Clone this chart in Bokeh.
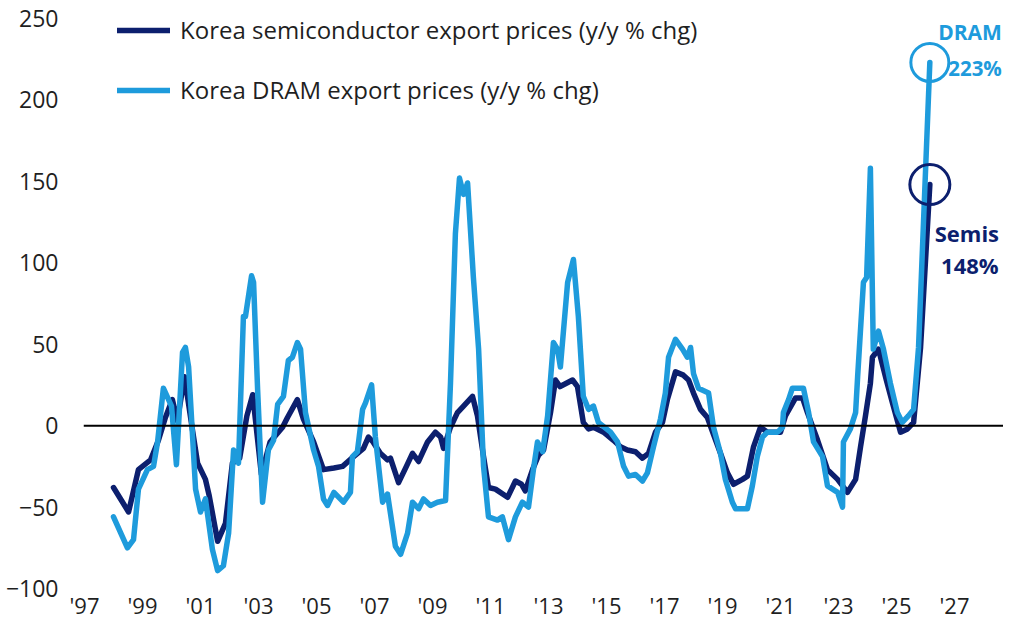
from bokeh.plotting import figure
from bokeh.models import FixedTicker, Span, Legend, LegendItem, Label, Range1d
from bokeh.embed import file_html
from bokeh.resources import INLINE

# ---------------- data ----------------
semis_dates = [
    1998.00, 1998.52, 1998.86, 1999.28, 1999.55, 1999.79, 2000.03, 2000.20, 2000.45, 2000.70,
    2000.90, 2001.17, 2001.30, 2001.59, 2001.86, 2002.10, 2002.35, 2002.60, 2002.80, 2003.10,
    2003.40, 2003.83, 2004.00, 2004.34, 2004.55, 2004.90, 2005.24, 2005.60, 2005.90, 2006.28,
    2006.62, 2006.79, 2006.95, 2007.20, 2007.45, 2007.55, 2007.83, 2008.10, 2008.31, 2008.52,
    2008.83, 2009.10, 2009.28, 2009.38, 2009.62, 2009.86, 2010.07, 2010.38, 2010.55, 2010.76,
    2010.93, 2011.17, 2011.59, 2011.86, 2012.07, 2012.20, 2012.45, 2012.66, 2012.83, 2013.07,
    2013.24, 2013.40, 2013.83, 2014.00, 2014.20, 2014.38, 2014.55, 2014.90, 2015.24, 2015.48,
    2015.72, 2016.00, 2016.24, 2016.45, 2016.69, 2016.93, 2017.10, 2017.38, 2017.65, 2017.83,
    2018.00, 2018.24, 2018.48, 2018.66, 2018.93, 2019.17, 2019.38, 2019.69, 2019.86, 2020.07,
    2020.31, 2020.55, 2021.00, 2021.17, 2021.52, 2021.76, 2021.93, 2022.28, 2022.62, 2022.97,
    2023.31, 2023.59, 2023.76, 2023.93, 2024.10, 2024.17, 2024.38, 2024.65, 2024.86, 2025.14,
    2025.38, 2025.59, 2025.83, 2026.15,
]
semis_yoy = [
    -38, -53, -27, -21, -9, 5, 16, 3, 30, 0,
    -23, -33, -43, -71, -60, -23, -20, 6, 19, -30,
    -10, -1, 5, 16, 4, -10, -27, -26, -25, -19,
    -14, -7, -10, -17, -21, -20, -35, -25, -17, -22,
    -10, -4, -7, -14, -1, 8, 12, 18, 6, -19,
    -38, -39, -44, -34, -36, -40, -27, -18, -15, 8,
    28, 24, 28, 24, 2, -2, -1, -4, -9, -13,
    -15, -16, -20, -17, -4, 2, 16, 33, 31, 28,
    20, 10, 5, -4, -17, -29, -36, -33, -31, -13,
    -1, -4, -4, 6, 17, 17, 8, -9, -27, -33,
    -41, -33, -13, 6, 26, 42, 47, 28, 14, -4,
    -2, 2, 48, 148,
]

dram_dates = [
    1998.00, 1998.48, 1998.69, 1998.86, 1999.17, 1999.38, 1999.52, 1999.72, 2000.00, 2000.17,
    2000.38, 2000.48, 2000.59, 2000.83, 2001.00, 2001.17, 2001.41, 2001.59, 2001.79, 2001.97,
    2002.14, 2002.31, 2002.48, 2002.55, 2002.76, 2002.83, 2002.97, 2003.14, 2003.34, 2003.52,
    2003.66, 2003.86, 2004.03, 2004.17, 2004.34, 2004.45, 2004.62, 2004.90, 2005.07, 2005.24,
    2005.38, 2005.60, 2005.93, 2006.17, 2006.24, 2006.41, 2006.59, 2006.69, 2006.90, 2007.03,
    2007.28, 2007.45, 2007.72, 2007.90, 2008.14, 2008.31, 2008.52, 2008.69, 2008.93, 2009.17,
    2009.45, 2009.62, 2009.79, 2009.93, 2010.07, 2010.21, 2010.41, 2010.59, 2010.76, 2010.93,
    2011.24, 2011.41, 2011.62, 2011.86, 2012.10, 2012.31, 2012.48, 2012.62, 2012.80, 2012.97,
    2013.17, 2013.31, 2013.41, 2013.66, 2013.86, 2014.03, 2014.20, 2014.38, 2014.55, 2014.72,
    2015.14, 2015.38, 2015.59, 2015.76, 2016.00, 2016.24, 2016.41, 2016.62, 2016.86, 2017.03,
    2017.14, 2017.38, 2017.62, 2017.79, 2017.90, 2018.00, 2018.17, 2018.52, 2018.69, 2018.93,
    2019.10, 2019.34, 2019.45, 2019.86, 2020.03, 2020.20, 2020.38, 2020.55, 2020.90, 2021.07,
    2021.10, 2021.28, 2021.41, 2021.79, 2021.97, 2022.14, 2022.45, 2022.62, 2022.97, 2023.14,
    2023.17, 2023.41, 2023.59, 2023.66, 2023.86, 2023.97, 2024.10, 2024.20, 2024.38, 2024.55,
    2024.79, 2025.03, 2025.20, 2025.41, 2025.59, 2025.76, 2026.15,
]
dram_yoy = [
    -56, -75, -70, -39, -27, -25, -10, 23, 12, -24,
    45, 48, 36, -39, -53, -45, -76, -89, -86, -66,
    -15, -23, 67, 67, 92, 88, 22, -47, -15, -9,
    13, 18, 40, 42, 51, 47, 8, -15, -25, -45,
    -49, -41, -47, -41, -19, -16, 10, 14, 25, -7,
    -47, -42, -74, -79, -66, -47, -51, -45, -49, -47,
    -46, 26, 118, 152, 142, 149, 91, 47, -25, -56,
    -58, -56, -70, -56, -47, -50, -27, -10, -16, 6,
    51, 47, 36, 88, 102, 67, 18, 10, 12, 2,
    -4, -10, -25, -31, -30, -34, -29, -13, 4, 20,
    42, 53, 47, 42, 48, 32, 23, 20, -1, -17,
    -33, -47, -51, -51, -37, -19, -7, -4, -4, -1,
    8, 16, 23, 23, 8, -10, -19, -37, -41, -50,
    -10, -2, 8, 30, 88, 91, 158, 47, 58, 47,
    26, 8, 2, 6, 10, 48, 223,
]

x_ticks = [1997, 1999, 2001, 2003, 2005, 2007, 2009, 2011, 2013, 2015, 2017, 2019, 2021, 2023, 2025, 2027]
x_tick_labels = ["'97", "'99", "'01", "'03", "'05", "'07", "'09", "'11", "'13", "'15", "'17", "'19", "'21", "'23", "'25", "'27"]
y_ticks = [-100, -50, 0, 50, 100, 150, 200, 250]

semis_name = "Korea semiconductor export prices (y/y % chg)"
dram_name = "Korea DRAM export prices (y/y % chg)"

# ---------------- styling ----------------
DARK = "#0c1f6e"
LIGHT = "#1e9bdc"
FONT = "Open Sans"
TXT = "#1f1f1f"

p = figure(width=1003, height=622, output_backend="svg", toolbar_location=None,
           x_range=Range1d(1996.9655, 2028.69), y_range=Range1d(-100.61, 261.03),
           min_border_left=83, min_border_right=0, min_border_top=0, min_border_bottom=32)
p.outline_line_color = None
p.grid.visible = False
p.background_fill_color = "white"
p.border_fill_color = "white"

for ax in (p.xaxis[0], p.yaxis[0]):
    ax.axis_line_color = None
    ax.major_tick_line_color = None
    ax.minor_tick_line_color = None
    ax.major_tick_out = 0
    ax.major_tick_in = 0
    ax.minor_tick_out = 0
    ax.major_label_text_font = FONT
    ax.major_label_text_color = TXT

p.xaxis.ticker = FixedTicker(ticks=x_ticks)
p.xaxis.major_label_overrides = {t: l for t, l in zip(x_ticks, x_tick_labels)}
p.xaxis.major_label_standoff = 0
p.xaxis.major_label_text_font_size = "22px"
p.yaxis.ticker = FixedTicker(ticks=y_ticks)
p.yaxis.major_label_standoff = 25
p.yaxis.major_label_text_font_size = "23px"

p.add_layout(Span(location=0, dimension="width", line_color="black", line_width=2))

r_semis = p.line(semis_dates, semis_yoy, line_color=DARK, line_width=5.5, line_join="round", line_cap="round")
r_dram = p.line(dram_dates, dram_yoy, line_color=LIGHT, line_width=5.5, line_join="round", line_cap="round")

# highlight circles on the latest readings
p.scatter([dram_dates[-1]], [dram_yoy[-1]], size=38, marker="circle", fill_color=None,
          line_color=LIGHT, line_width=3)
p.scatter([semis_dates[-1]], [semis_yoy[-1]], size=40, marker="circle", fill_color=None,
          line_color=DARK, line_width=3)

for txt, dx, dy, fs in (("DRAM", 72, 30, "21px"), ("223%", 72, -6, "20.5px")):
    p.add_layout(Label(x=dram_dates[-1], y=dram_yoy[-1], text=txt, x_offset=dx, y_offset=dy,
                       text_align="right", text_baseline="middle", text_font=FONT,
                       text_font_style="bold", text_font_size=fs, text_color=LIGHT))
for txt, dx, dy in (("Semis", 37, -48), ("148%", 40, -80)):
    p.add_layout(Label(x=semis_dates[-1], y=semis_yoy[-1], text=txt, x_offset=dx, y_offset=dy,
                       text_align="center", text_baseline="middle", text_font=FONT,
                       text_font_style="bold", text_font_size="22px", text_color=DARK))

legend = Legend(items=[LegendItem(label=semis_name, renderers=[r_semis]),
                       LegendItem(label=dram_name, renderers=[r_dram])],
                location=(34, 483), padding=0, margin=0, spacing=27,
                glyph_height=32, glyph_width=53, label_height=32, label_standoff=10,
                label_text_font=FONT, label_text_font_size="24px", label_text_color=TXT,
                border_line_color=None, background_fill_alpha=0)
p.add_layout(legend)

open("out.html", "w").write(file_html(p, INLINE))
